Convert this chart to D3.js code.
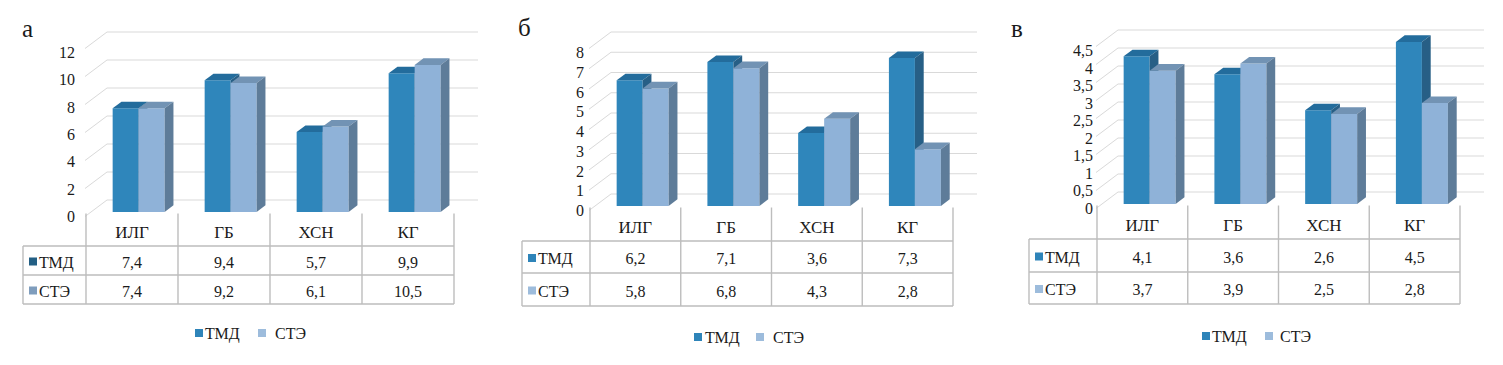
<!DOCTYPE html>
<html>
<head>
<meta charset="utf-8">
<script src="https://cdn.jsdelivr.net/npm/d3@7"></script>
<style>
  body { margin: 0; background: #fff; }
  svg text { font-family: "Liberation Serif", "DejaVu Serif", "Times New Roman", serif; fill: #1a1a1a; }
</style>
</head>
<body>
<svg width="1503" height="365"></svg>
<script>
var categories = ["ИЛГ", "ГБ", "ХСН", "КГ"],
    seriesNames = ["ТМД", "СТЭ"],
    panelLetters = ["а", "б", "в"];

// values per panel
var tmdA = [7.4, 9.4, 5.7, 9.9],
    steA = [7.4, 9.2, 6.1, 10.5];
var tmdB = [6.2, 7.1, 3.6, 7.3],
    steB = [5.8, 6.8, 4.3, 2.8];
var tmdV = [4.1, 3.6, 2.6, 4.5],
    steV = [3.7, 3.9, 2.5, 2.8];

var ticksA = [0, 2, 4, 6, 8, 10, 12],
    ticksB = [0, 1, 2, 3, 4, 5, 6, 7, 8],
    ticksV = [0, 0.5, 1, 1.5, 2, 2.5, 3, 3.5, 4, 4.5];

// layout of the three panels
var layout = [
  {colStart: 86,   colW: 92,    tableLeft: 23,   back0: 200, backTop: 32, tickRight: 75,   rows: [246, 275, 304], legendY: 333, letterX: 22,   letterY: 37, legendOff: [109, 119, 172, 189], keyDark: true},
  {colStart: 590,  colW: 90.75, tableLeft: 522,  back0: 194, backTop: 32, tickRight: 584,  rows: [241, 273, 306], legendY: 337, letterX: 518,  letterY: 36, legendOff: [104, 115, 166, 183]},
  {colStart: 1097, colW: 90.75, tableLeft: 1029, back0: 192, backTop: 30, tickRight: 1093, rows: [239, 272, 304], legendY: 336, letterX: 1011, letterY: 37, legendOff: [105, 115, 168, 183]}
];
var panelData = [[tmdA, steA], [tmdB, steB], [tmdV, steV]],
    panelTicks = [ticksA, ticksB, ticksV];

var ddx = 22, ddy = 16.5,   // depth of the 3d box
    zf = 0.28, zb = 0.68;   // bar front / back depth

var colors = {
  "ТМД": {front: "#2f86bb", top: "#236c9c", side: "#275f86", key: "#2e84b9", keyDark: "#235f84"},
  "СТЭ": {front: "#8fb2d8", top: "#7293b4", side: "#5e7c99", key: "#9dbcdc", keyDark: "#7f9dbd"}
};

var fontFam = "'Liberation Serif', 'DejaVu Serif', 'Times New Roman', serif";
var fmt = function(v) { return String(v).replace(".", ","); };

var svg = d3.select("svg").attr("font-family", fontFam);

layout.forEach(function(L, pi) {
  var ticks = panelTicks[pi],
      vals = panelData[pi],
      g = svg.append("g");

  var y = d3.scaleLinear().domain([0, d3.max(ticks)]).range([L.back0, L.backTop]);
  var yLab = d3.scaleLinear().domain([0, d3.max(ticks)]).range([L.back0 + ddy, L.backTop + ddy + 4]);
  var x0 = d3.scaleBand().domain(categories).range([L.colStart, L.colStart + 4 * L.colW]);
  var x1 = d3.scaleBand().domain(seriesNames).range([20.5, 72.5]);

  function P(x, v, z) { return [x + z * ddx, y(v) + (1 - z) * ddy]; }

  // wall gridlines
  var grid = g.append("g").attr("fill", "none").attr("stroke", "#d9d9d9").attr("stroke-width", 1);
  ticks.forEach(function(t) {
    var a = P(L.colStart - 1, t, 0), b = P(L.colStart - 1, t, 1),
        c = P(L.colStart + 4 * L.colW + 2, t, 1);
    grid.append("path").attr("d", d3.line()([a, b, c]));
  });

  // tick labels
  g.append("g").selectAll("text")
    .data(ticks).enter().append("text")
    .attr("x", L.tickRight)
    .attr("y", function(t) { return yLab(t); })
    .attr("text-anchor", "end")
    .attr("dominant-baseline", "central")
    .attr("font-family", fontFam)
    .style("font-size", "16px")
    .text(fmt);

  // bars
  categories.forEach(function(cat, ci) {
    seriesNames.forEach(function(s, si) {
      var v = vals[si][ci],
          xl = x0(cat) + x1(s),
          xr = xl + x1.bandwidth(),
          col = colors[s];
      var bar = g.append("g");
      bar.append("path").attr("fill", col.front)
        .attr("d", d3.line()([P(xl, 0, zf), P(xr, 0, zf), P(xr, v, zf), P(xl, v, zf)]) + "Z");
      bar.append("path").attr("fill", col.top)
        .attr("d", d3.line()([P(xl, v, zf), P(xr, v, zf), P(xr, v, zb), P(xl, v, zb)]) + "Z");
      bar.append("path").attr("fill", col.side)
        .attr("d", d3.line()([P(xr, 0, zf), P(xr, 0, zb), P(xr, v, zb), P(xr, v, zf)]) + "Z");
    });
  });

  // data table
  var front0 = L.back0 + ddy,
      colEnd = L.colStart + 4 * L.colW,
      tbl = g.append("g").attr("stroke", "#bdbdbd").attr("stroke-width", 1.4).attr("fill", "none");
  L.rows.forEach(function(r) {
    tbl.append("line").attr("x1", L.tableLeft).attr("x2", colEnd).attr("y1", r).attr("y2", r);
  });
  tbl.append("line").attr("x1", L.tableLeft).attr("x2", L.tableLeft).attr("y1", L.rows[0]).attr("y2", L.rows[2]);
  d3.range(5).forEach(function(i) {
    var cx = L.colStart + i * L.colW;
    tbl.append("line").attr("x1", cx).attr("x2", cx).attr("y1", front0 - 3).attr("y2", L.rows[2]);
  });

  // header row
  g.append("g").selectAll("text")
    .data(categories).enter().append("text")
    .attr("x", function(c) { return x0(c) + x0.bandwidth() / 2; })
    .attr("y", (front0 + L.rows[0]) / 2 + 1.5)
    .attr("text-anchor", "middle")
    .attr("dominant-baseline", "central")
    .attr("font-family", fontFam)
    .style("font-size", "17px")
    .text(function(c) { return c; });

  // value rows
  seriesNames.forEach(function(s, si) {
    var rowY = (L.rows[si] + L.rows[si + 1]) / 2 + 1.5;
    g.append("rect")
      .attr("x", L.tableLeft + 6).attr("y", rowY - 4.5)
      .attr("width", 8).attr("height", 8)
      .attr("fill", L.keyDark ? colors[s].keyDark : colors[s].key);
    g.append("text")
      .attr("x", L.tableLeft + 16).attr("y", rowY)
      .attr("dominant-baseline", "central")
      .attr("font-family", fontFam)
      .style("font-size", "16px")
      .text(s);
    g.append("g").selectAll("text")
      .data(vals[si]).enter().append("text")
      .attr("x", function(d, i) { return x0(categories[i]) + x0.bandwidth() / 2; })
      .attr("y", rowY)
      .attr("text-anchor", "middle")
      .attr("dominant-baseline", "central")
      .attr("font-family", fontFam)
      .style("font-size", "16px")
      .text(fmt);
  });

  // legend
  seriesNames.forEach(function(s, si) {
    var off = L.legendOff;
    g.append("rect")
      .attr("x", L.colStart + off[si * 2]).attr("y", L.legendY - 4)
      .attr("width", 8).attr("height", 8)
      .attr("fill", colors[s].key);
    g.append("text")
      .attr("x", L.colStart + off[si * 2 + 1]).attr("y", L.legendY)
      .attr("dominant-baseline", "central")
      .attr("font-family", fontFam)
      .style("font-size", "16px")
      .text(s);
  });

  // panel letter
  g.append("text")
    .attr("x", L.letterX).attr("y", L.letterY)
    .attr("font-family", fontFam)
    .style("font-size", "25px")
    .text(panelLetters[pi]);
});
</script>
</body>
</html>
